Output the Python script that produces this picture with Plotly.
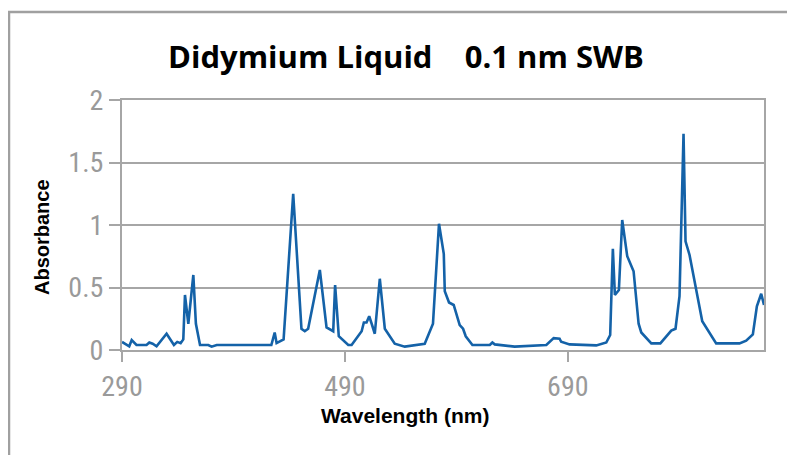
import plotly.graph_objects as go

wavelength = [290, 296.5, 298.7, 303, 312, 314.5, 317.5, 321, 330, 336.6, 339.6, 342.6, 345,
              346.5, 349.5, 354, 356.3, 360, 367.4, 370.4, 375, 424, 427, 428.7, 435, 443.6,
              451, 454, 457, 467.5, 473.5, 479.5, 481.2, 484.5, 493, 496, 505, 507, 509.4,
              511.8, 514, 516.8, 521.3, 525.8, 534.7, 543.7, 561.6, 569, 574.4, 578.7, 579.6,
              583.4, 587.6, 593, 596, 598.4, 604.4, 620, 622.3, 624.4, 642.3, 670.7, 677.3,
              682.6, 684, 691.6, 715.5, 724.5, 728, 730.4, 732.2, 735.8, 738.8, 743.3, 749,
              753.5, 755.9, 764.9, 773, 778.3, 782.8, 786.6, 790.2, 793.8, 795.6, 799.2,
              810.6, 823.1, 844, 850, 856, 859.6, 863.5, 866]
absorbance = [0.065, 0.03, 0.08, 0.04, 0.04, 0.06, 0.05, 0.03, 0.13, 0.04, 0.065, 0.055, 0.085,
              0.44, 0.21, 0.60, 0.21, 0.04, 0.04, 0.027, 0.04, 0.04, 0.14, 0.055, 0.085, 1.25,
              0.17, 0.15, 0.17, 0.64, 0.18, 0.15, 0.52, 0.11, 0.04, 0.04, 0.15, 0.22, 0.22,
              0.27, 0.21, 0.13, 0.57, 0.17, 0.05, 0.027, 0.05, 0.21, 1.01, 0.77, 0.47,
              0.38, 0.36, 0.20, 0.17, 0.11, 0.04, 0.04, 0.06, 0.045, 0.027, 0.04, 0.095,
              0.09, 0.066, 0.045, 0.037, 0.06, 0.12, 0.81, 0.44, 0.48, 1.04, 0.75, 0.63,
              0.21, 0.14, 0.053, 0.053, 0.11, 0.155, 0.17, 0.43, 1.73, 0.87, 0.76,
              0.23, 0.053, 0.053, 0.075, 0.125, 0.35, 0.45, 0.36]

x_ticks = [290, 490, 690]
y_ticks = [0, 0.5, 1, 1.5, 2]
y_tick_labels = ["0", "0.5", "1", "1.5", "2"]

title_text = "Didymium Liquid\u00a0\u00a0\u00a0 0.1 nm SWB"
x_title = "Wavelength (nm)"
y_title = "Absorbance"

W, H = 795, 455
OFF = 8  # page body margin
L, R, T, B = 114, 39, 92, 113
pw, ph = W - L - R, H - T - B


def px(x):  # page pixel -> paper x
    return (x - OFF - L) / pw


def py(y):  # page pixel -> paper y
    return (H - B - (y - OFF)) / ph


fig = go.Figure()
fig.add_trace(go.Scatter(x=wavelength, y=absorbance, mode="lines",
                         line=dict(color="#1462a8", width=2.6), hoverinfo="x+y"))

tick_font = dict(family="Roboto Condensed, Roboto, sans-serif", size=28, color="#9a9a9a")

fig.update_layout(
    width=W, height=H,
    margin=dict(l=L, r=R, t=T, b=B),
    paper_bgcolor="white", plot_bgcolor="white",
    showlegend=False,
    xaxis=dict(range=[290, 866], tickvals=x_ticks, ticktext=[str(v) for v in x_ticks],
               showgrid=False, zeroline=False, showline=True, mirror=True,
               linecolor="#a6a6a6", linewidth=2, ticks="outside", ticklen=10,
               tickwidth=2, tickcolor="#a6a6a6", tickfont=tick_font),
    yaxis=dict(range=[0, 2], tickvals=y_ticks, ticktext=y_tick_labels,
               showgrid=True, gridcolor="#a6a6a6", gridwidth=2, zeroline=False,
               showline=True, mirror=True, linecolor="#a6a6a6", linewidth=2,
               ticks="outside", ticklen=11, tickwidth=2, tickcolor="#a6a6a6",
               tickfont=tick_font),
    shapes=[dict(type="rect", xref="paper", yref="paper",
                 x0=px(9), x1=px(820), y0=py(480), y1=py(12),
                 line=dict(color="#a0a0a0", width=2.5), fillcolor="rgba(0,0,0,0)",
                 layer="below")],
    annotations=[
        dict(text=title_text, xref="paper", yref="paper",
             x=px(406), y=py(56), showarrow=False, xanchor="center", yanchor="middle",
             font=dict(family="Open Sans, sans-serif", size=31, color="black", weight="bold")),
        dict(text="<b>" + x_title + "</b>", xref="paper", yref="paper",
             x=px(405), y=py(415), showarrow=False, xanchor="center", yanchor="middle",
             font=dict(family="Liberation Sans, Arial, sans-serif", size=21, color="black")),
        dict(text="<b>" + y_title + "</b>", xref="paper", yref="paper",
             x=px(42), y=py(237), showarrow=False, xanchor="center", yanchor="middle",
             textangle=-90,
             font=dict(family="Liberation Sans, Arial, sans-serif", size=20, color="black")),
    ],
)

fig.write_html("out.html")
